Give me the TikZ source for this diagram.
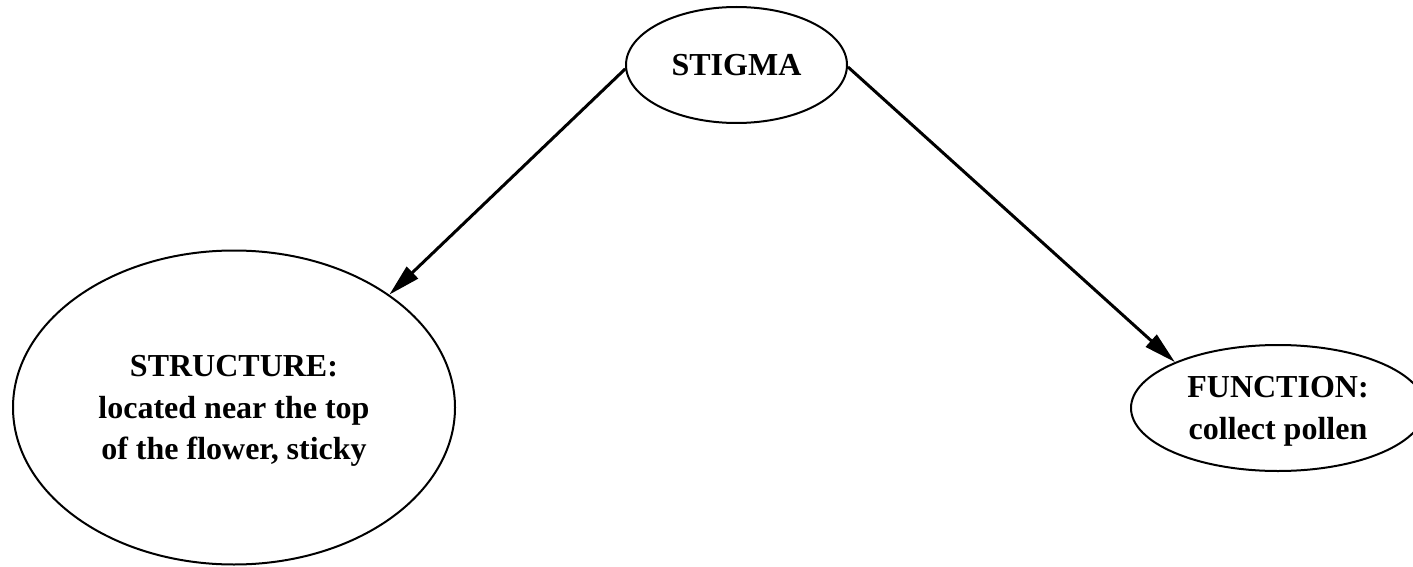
\documentclass[tikz,border=0pt]{standalone}
\usepackage{fontspec}
\setmainfont{Liberation Serif}
\usetikzlibrary{shapes.geometric,arrows.meta}
\begin{document}
\begin{tikzpicture}[x=1pt,y=-1pt,
  concept/.style={ellipse, draw, line width=2pt, inner sep=0pt, align=center,
    font=\fontsize{32}{41.5}\selectfont\bfseries, text depth=0pt},
  link/.style={line width=3pt, -{Triangle[length=32pt,width=16pt]}}]
\useasboundingbox (0,0) rectangle (1413,567);
% concept ellipses
\node[concept, minimum width=221pt, minimum height=116pt] (stigma) at (736.5,65) {STIGMA};
\node[concept, minimum width=442pt, minimum height=314pt] (structure) at (234,407.5)
  {STRUCTURE:\\located near the top\\of the flower, sticky};
\node[concept, minimum width=294pt, minimum height=126pt] (function) at (1278,408)
  {FUNCTION:\\collect pollen};
% links from the central concept
\draw[link] (stigma.182) -- (structure.36);
\draw[link] (stigma.-1.5) -- (function.156);
\end{tikzpicture}
\end{document}
